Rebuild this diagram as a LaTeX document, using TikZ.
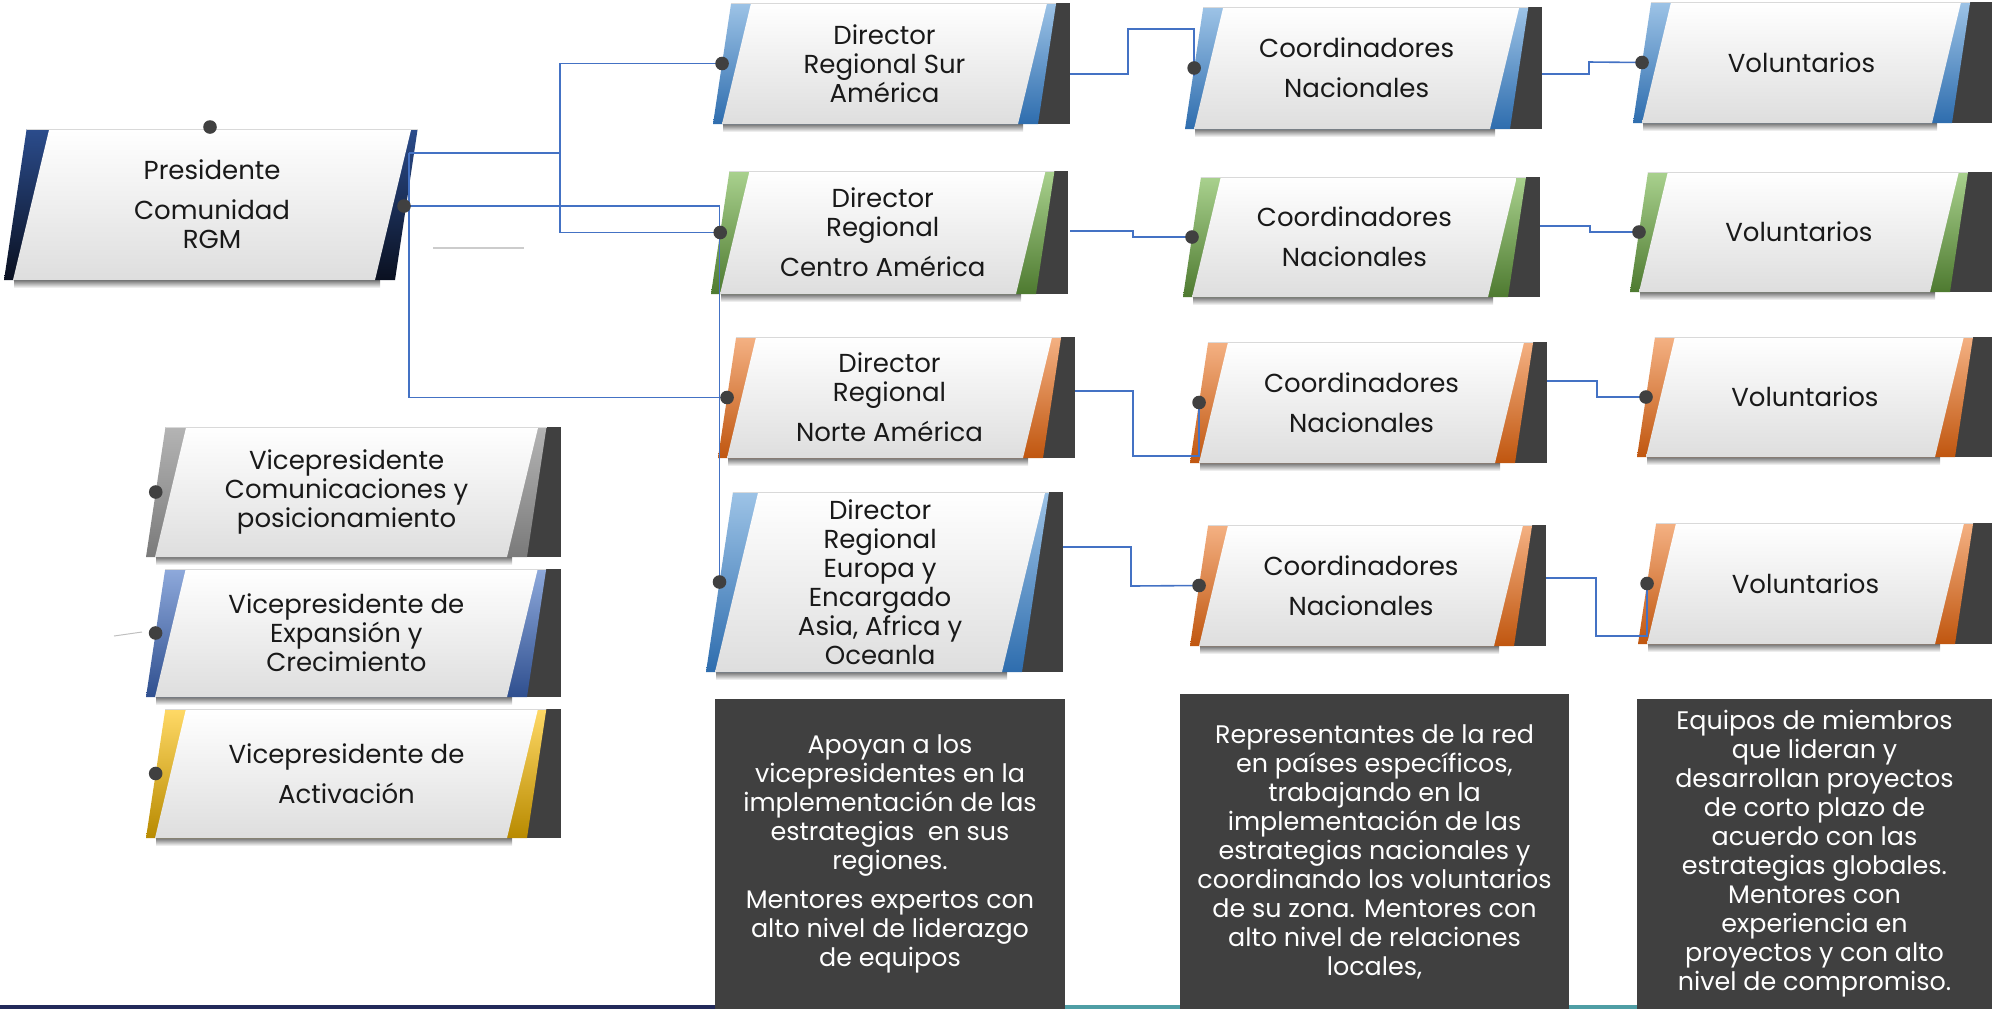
\documentclass[tikz,border=0pt]{standalone}
\usepackage{fontspec}
\setmainfont{Poppins}
\usepackage{tikz}
\usetikzlibrary{calc}

\definecolor{linkblue}{HTML}{4472C4}
\definecolor{boxdark}{HTML}{404040}
\definecolor{dotc}{HTML}{404040}
\definecolor{bluetop}{HTML}{9DC3E6}
\definecolor{bluebot}{HTML}{2E6DAE}
\definecolor{greentop}{HTML}{A9D18E}
\definecolor{greenbot}{HTML}{4E7A30}
\definecolor{orangetop}{HTML}{F4B183}
\definecolor{orangebot}{HTML}{C0560F}
\definecolor{graytop}{HTML}{B4B4B4}
\definecolor{graybot}{HTML}{7A7A7A}
\definecolor{vpbluetop}{HTML}{8EA9DB}
\definecolor{vpbluebot}{HTML}{2F4F8F}
\definecolor{goldtop}{HTML}{FFD966}
\definecolor{goldbot}{HTML}{B88A00}
\definecolor{navytop}{HTML}{2B4C8C}
\definecolor{navybot}{HTML}{0A1020}
\definecolor{stripnavy}{HTML}{222A5A}
\definecolor{stripteal}{HTML}{4F9EA5}

\tikzset{
  link/.style={draw=linkblue, line width=0.8pt},
  boxtext/.style={align=center, text=black!90, font=\fontsize{13}{14.5}\selectfont},
  infobox/.style={fill=boxdark, text=white, align=center, inner sep=0pt,
    font=\fontsize{12.7}{14.5}\selectfont},
}

% slanted box: name, left x, top y, bottom y, right x, dark right x, band colour, text
\newcommand{\orgbox}[8]{%
  \pgfmathsetmacro\hh{#4-#3}%
  \pgfmathsetmacro\sa{0.15*\hh}%
  \pgfmathsetmacro\sb{0.24*\hh}%
  \ifx&#6&\else\fill[boxdark] (#5-30,#3) rectangle (#6,#4);\fi
  \shade[top color=black!55, bottom color=white] (#2+10,#4) rectangle (#5-15,#4+8);
  \shade[top color=#7top, bottom color=#7bot] (#2,#4) -- (#5,#4) -- (#5+\sa,#3) -- (#2+\sa,#3) -- cycle;
  \shade[top color=white, bottom color=black!13] (#2+9,#4) -- (#5-20,#4) -- (#5-20+\sb,#3) -- (#2+9+\sb,#3) -- cycle;
  \draw[black!15, line width=0.4pt] (#2+\sa,#3) -- (#5+\sa,#3);
  \coordinate (#1-in) at (#2+\sa/2,{(#3+#4)/2});
  \node[boxtext] (#1) at ({(#2+#5-11+\sb)/2},{(#3+#4)/2}) {#8};
}

\begin{document}
\begin{tikzpicture}[x=0.5pt,y=-0.5pt]
  \useasboundingbox (0,0) rectangle (1992,1009);

  % bottom strip
  \fill[stripnavy] (0,1005) rectangle (715,1009);
  \fill[stripteal] (715,1005) rectangle (1992,1009);

  % president and vice presidents
  \orgbox{pres}{4}{129}{280}{395}{}{navy}{Presidente\\[5.5pt]Comunidad\\RGM}
  \orgbox{vpcom}{146}{427}{557}{527}{561}{gray}{Vicepresidente\\Comunicaciones y\\posicionamiento}
  \orgbox{vpexp}{146}{569}{697}{527}{561}{vpblue}{Vicepresidente de\\Expansión y\\Crecimiento}
  \orgbox{vpact}{146}{709}{838}{527}{561}{gold}{Vicepresidente de\\[5.5pt]Activación}

  % regional directors
  \orgbox{sur}{713}{3}{124}{1038}{1070}{blue}{Director\\Regional Sur\\América}
  \orgbox{centro}{711}{171}{294}{1036}{1068}{green}{Director\\Regional\\[5.5pt]Centro América}
  \orgbox{norte}{718}{337}{458}{1043}{1075}{orange}{Director\\Regional\\[5.5pt]Norte América}
  \orgbox{europa}{706}{492}{672}{1022}{1063}{blue}{Director\\Regional\\Europa y\\Encargado\\Asia, Africa y\\Oceanla}

  % national coordinators
  \orgbox{coordA}{1185}{7}{129}{1510}{1542}{blue}{Coordinadores\\[5.5pt]Nacionales}
  \orgbox{coordB}{1183}{177}{297}{1508}{1540}{green}{Coordinadores\\[5.5pt]Nacionales}
  \orgbox{coordC}{1190}{342}{463}{1515}{1547}{orange}{Coordinadores\\[5.5pt]Nacionales}
  \orgbox{coordD}{1190}{525}{646}{1514}{1546}{orange}{Coordinadores\\[5.5pt]Nacionales}

  % volunteers
  \orgbox{volA}{1633}{2}{123}{1952}{1992}{blue}{Voluntarios}
  \orgbox{volB}{1630}{172}{292}{1950}{1992}{green}{Voluntarios}
  \orgbox{volC}{1637}{337}{457}{1955}{1992}{orange}{Voluntarios}
  \orgbox{volD}{1638}{523}{644}{1955}{1992}{orange}{Voluntarios}

  % descriptions
  \node[infobox, minimum width=175pt, minimum height=155pt] (descdir) at (890,854)
    {Apoyan a los\\vicepresidentes en la\\implementación de las\\estrategias~ en sus\\regiones.\\[5pt]
     Mentores expertos con\\alto nivel de liderazgo\\de equipos};
  \node[infobox, minimum width=194.5pt, minimum height=157.5pt] (desccoord) at (1374.5,851.5)
    {Representantes de la red\\en países específicos,\\trabajando en la\\implementación de las\\estrategias nacionales y\\coordinando los voluntarios\\de su zona. Mentores con\\alto nivel de relaciones\\locales,};
  \node[infobox, minimum width=177.5pt, minimum height=155pt] (descvol) at (1814.5,854)
    {Equipos de miembros\\que lideran y\\desarrollan proyectos\\de corto plazo de\\acuerdo con las\\estrategias globales.\\Mentores con\\experiencia en\\proyectos y con alto\\nivel de compromiso.};

  % connector ends
  \coordinate (pres-top) at (210,127);
  \coordinate (pres-e) at (404,206);
  \coordinate (pres-ne) at (409,153);
  \coordinate (busA) at (560,153);
  \coordinate (sur-out) at (1070,74);
  \coordinate (centro-out) at (1070,231);
  \coordinate (norte-out) at (1075,391);
  \coordinate (europa-out) at (1063,547);
  \coordinate (coordA-out) at (1542,74);
  \coordinate (coordB-out) at (1540,226);
  \coordinate (coordC-out) at (1547,381);
  \coordinate (coordD-out) at (1546,578);

  % faint guide lines
  \draw[black!20, line width=0.6pt] (433,248) -- (524,248);
  \draw[black!25, line width=0.5pt] (114,636) -- (142,632);

  % connectors
  \draw[link] (pres-ne) -- (busA);
  \draw[link] (sur-in) -| (busA) |- (centro-in);
  \draw[link] (pres-e) -| (europa-in);
  \draw[link] (pres-ne) |- (norte-in);
  \draw[link] (sur-out) -| (1128,29) -| (coordA-in) -- ++(0,8);
  \draw[link] (centro-out) -| (1133,237) -- (coordB-in);
  \draw[link] (norte-out) -| (1133,456) -| (coordC-in);
  \draw[link] (europa-out) -| (1131,586) -- (coordD-in);
  \draw[link] (coordA-out) -| (1589,62) -- (volA-in);
  \draw[link] (coordB-out) -| (1590,232) -- (volB-in);
  \draw[link] (coordC-out) -| (1597,397) -- (volC-in);
  \draw[link] (coordD-out) -| (1596,636) -| (volD-in);

  % dots
  \foreach \d in {pres-top,pres-e,vpcom-in,vpexp-in,vpact-in,sur-in,centro-in,norte-in,europa-in,
    coordA-in,coordB-in,coordC-in,coordD-in,volA-in,volB-in,volC-in,volD-in}
    \fill[dotc] (\d) circle (3.4pt);
\end{tikzpicture}
\end{document}
